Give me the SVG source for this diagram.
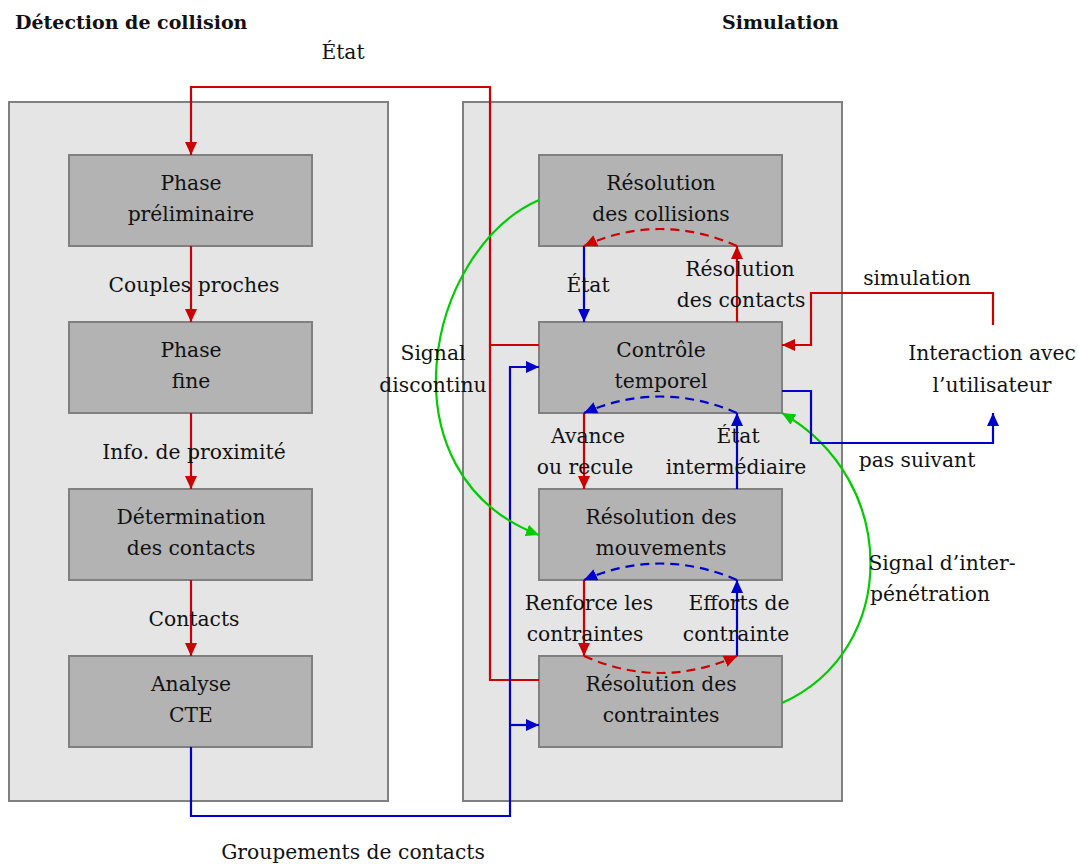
<svg xmlns="http://www.w3.org/2000/svg" width="1078" height="865" viewBox="0 0 1078 865">
<style>
text{font-family:"DejaVu Serif","Liberation Serif",serif;font-size:20.3px;fill:#111;text-anchor:middle}
.title{font-weight:bold;text-anchor:start;font-size:19px}
.panel{fill:#e5e5e5;stroke:#808080;stroke-width:2}
.node{fill:#b3b3b3;stroke:#808080;stroke-width:2}
.r{stroke:#cc0000;stroke-width:2.2;fill:none}
.b{stroke:#0000cc;stroke-width:2.2;fill:none}
.g{stroke:#00cc00;stroke-width:2.2;fill:none}
.d{stroke-dasharray:9,6}
</style>
<defs>
<marker id="ar" markerUnits="userSpaceOnUse" markerWidth="14" markerHeight="12" refX="13" refY="6" orient="auto"><path d="M0,0 L13,6 L0,12 z" fill="#cc0000"/></marker>
<marker id="ab" markerUnits="userSpaceOnUse" markerWidth="14" markerHeight="12" refX="13" refY="6" orient="auto"><path d="M0,0 L13,6 L0,12 z" fill="#0000cc"/></marker>
<marker id="ag" markerUnits="userSpaceOnUse" markerWidth="14" markerHeight="12" refX="13" refY="6" orient="auto"><path d="M0,0 L13,6 L0,12 z" fill="#00cc00"/></marker>
</defs>
<rect width="1078" height="865" fill="#fff"/>
<text class="title" x="15" y="29">Détection de collision</text>
<text class="title" x="722" y="29">Simulation</text>
<g id="panel-detection"><rect class="panel" x="9" y="102" width="379" height="699"/></g>
<g id="panel-simulation"><rect class="panel" x="463" y="102" width="379" height="699"/></g>
<g id="n-phase-prelim"><rect class="node" x="69" y="155" width="243" height="91"/><text x="191" y="190">Phase</text><text x="191" y="221">préliminaire</text></g>
<g id="n-phase-fine"><rect class="node" x="69" y="322" width="243" height="91"/><text x="191" y="357">Phase</text><text x="191" y="388">fine</text></g>
<g id="n-determination"><rect class="node" x="69" y="489" width="243" height="91"/><text x="191" y="524">Détermination</text><text x="191" y="555">des contacts</text></g>
<g id="n-analyse"><rect class="node" x="69" y="656" width="243" height="91"/><text x="191" y="691">Analyse</text><text x="191" y="722">CTE</text></g>
<g id="n-res-collisions"><rect class="node" x="539" y="155" width="243" height="91"/><text x="661" y="190">Résolution</text><text x="661" y="221">des collisions</text></g>
<g id="n-controle"><rect class="node" x="539" y="322" width="243" height="91"/><text x="661" y="357">Contrôle</text><text x="661" y="388">temporel</text></g>
<g id="n-res-mouvements"><rect class="node" x="539" y="489" width="243" height="91"/><text x="661" y="524">Résolution des</text><text x="661" y="555">mouvements</text></g>
<g id="n-res-contraintes"><rect class="node" x="539" y="656" width="243" height="91"/><text x="661" y="691">Résolution des</text><text x="661" y="722">contraintes</text></g>
<g id="n-interaction"><text x="992" y="360">Interaction avec</text><text x="992" y="392">l’utilisateur</text></g>
<g id="connectors">
<path class="r" d="M191,246 V322" marker-end="url(#ar)"/>
<path class="r" d="M191,413 V489" marker-end="url(#ar)"/>
<path class="r" d="M191,580 V656" marker-end="url(#ar)"/>
<path class="r" d="M539,345 H490 V87 H191 V155" marker-end="url(#ar)"/>
<path class="r" d="M539,680 H490 V345"/>
<path class="b" d="M191,747 V816 H510 V367 H539" marker-end="url(#ab)"/>
<path class="b" d="M510,725 H539" marker-end="url(#ab)"/>
<path class="b" d="M584,246 V322" marker-end="url(#ab)"/>
<path class="r" d="M737,322 V246" marker-end="url(#ar)"/>
<path class="r d" d="M737,246 Q660,212 584,246" marker-end="url(#ar)"/>
<path class="r" d="M584,413 V489" marker-end="url(#ar)"/>
<path class="b" d="M737,489 V413" marker-end="url(#ab)"/>
<path class="b d" d="M737,413 Q660,380 584,413" marker-end="url(#ab)"/>
<path class="r" d="M584,580 V656" marker-end="url(#ar)"/>
<path class="b" d="M737,656 V580" marker-end="url(#ab)"/>
<path class="b d" d="M737,580 Q660,547 584,580" marker-end="url(#ab)"/>
<path class="r d" d="M584,656 Q660,690 737,656" marker-end="url(#ar)"/>
<path class="g" d="M539,200 C425,250 380,475 539,535" marker-end="url(#ag)"/>
<path class="g" d="M782,703 C900,650 900,480 782,413" marker-end="url(#ag)"/>
<path class="r" d="M993,325 V293 H811 V345 H782" marker-end="url(#ar)"/>
<path class="b" d="M782,391 H811 V443 H993 V413" marker-end="url(#ab)"/>
</g>
<g id="labels">
<text x="343" y="59">État</text>
<text x="194" y="292">Couples proches</text>
<text x="194" y="459">Info. de proximité</text>
<text x="194" y="626">Contacts</text>
<text x="433" y="360">Signal</text>
<text x="433" y="392">discontinu</text>
<text x="588" y="292">État</text>
<text x="740" y="276">Résolution</text>
<text x="741" y="307">des contacts</text>
<text x="588" y="443">Avance</text>
<text x="585" y="474">ou recule</text>
<text x="738" y="443">État</text>
<text x="736" y="474">intermédiaire</text>
<text x="589" y="610">Renforce les</text>
<text x="585" y="641">contraintes</text>
<text x="739" y="610">Efforts de</text>
<text x="736" y="641">contrainte</text>
<text x="917" y="285">simulation</text>
<text x="917" y="467">pas suivant</text>
<text x="942" y="570">Signal d’inter-</text>
<text x="930" y="601">pénétration</text>
<text x="353" y="859">Groupements de contacts</text>
</g>
</svg>
